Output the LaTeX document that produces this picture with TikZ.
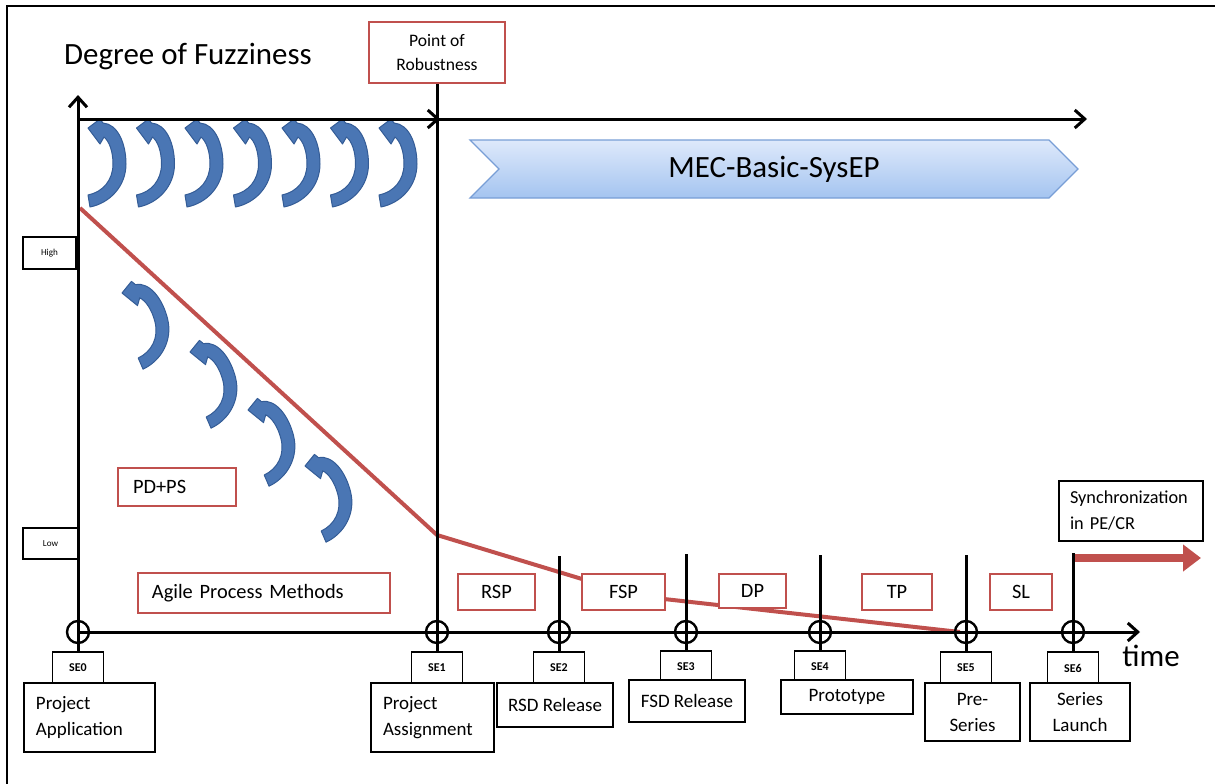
\documentclass[tikz,border=0pt]{standalone}
\usepackage{fontspec}
\setmainfont{Carlito}
\usepackage{tikz}
\usetikzlibrary{positioning,arrows.meta,shapes.symbols}
\definecolor{boxred}{RGB}{192,80,77}
\definecolor{curlblue}{RGB}{74,118,180}
\definecolor{curledge}{RGB}{52,92,150}
\definecolor{chevtop}{RGB}{222,233,251}
\definecolor{chevbot}{RGB}{164,196,240}
\definecolor{chevedge}{RGB}{120,158,214}
\tikzset{
  axis/.style={line width=0.75mm, -{Straight Barb[length=2.5mm,width=4.5mm]}},
  stem/.style={line width=0.75mm},
  milestone/.style={circle, draw, line width=0.6mm, minimum size=5.5mm, inner sep=0pt},
  phasebox/.style={rectangle, draw=boxred, line width=0.7mm, fill=white, font=\fontsize{14.5}{17}\selectfont, inner sep=0pt},
  stagebox/.style={rectangle, draw, line width=0.45mm, fill=white, font=\fontsize{13.5}{18.5}\selectfont, inner sep=0pt},
  sebox/.style={rectangle, draw, line width=0.45mm, fill=white, font=\fontsize{8.5}{10}\selectfont\bfseries, minimum width=12.75mm, minimum height=8mm, inner sep=0pt},
  levelbox/.style={rectangle, draw, line width=0.4mm, font=\fontsize{6.5}{8}\selectfont, minimum height=8mm, inner sep=0pt},
  fuzzline/.style={boxred, line width=1mm, line join=round},
  syncarrow/.style={boxred, line width=2.2mm, -{Triangle[length=4.5mm,width=6.5mm]}},
  fuzzloop/.pic={
    \fill[curlblue, draw=curledge, line width=0.25mm, line join=round] (0,0) -- (12,-9) -- (15,-5)
      .. controls (30,-4) and (38,16) .. (38,36)
      .. controls (38,58) and (22,75) .. (2,79)
      -- (0,67)
      .. controls (15,64) and (25,52) .. (25,36)
      .. controls (25,23) and (21,13) .. (16,9)
      -- (12,16) -- cycle;
  },
}
\begin{document}
\begin{tikzpicture}[x=0.25mm, y=-0.25mm]
\useasboundingbox (0,0) rectangle (1215,784);
%Frame
\draw[line width=0.5mm] (7,784) -- (7,6) -- (1215,6);

%Coordinates
\coordinate (origin) at (78,632);
\coordinate (ytop) at (78,95);
\coordinate (xend) at (1140,632);
\coordinate (topleft) at (78,119);
\coordinate (topmid) at (440,119);
\coordinate (topstart) at (437,119);
\coordinate (topend) at (1087,119);
\coordinate (t2) at (559,556);
\coordinate (t3) at (686,554);
\coordinate (t4) at (820,555);
\coordinate (t5) at (966,555);
\coordinate (t6) at (1073,553);
\coordinate (syncstart) at (1073,558);
\coordinate (syncend) at (1201,558);

%Fuzziness curve and loops
\draw[fuzzline] (80,208) -- (437,535) -- (582,579) -- (664,599) -- (960,632);
\draw[syncarrow] (syncstart) -- (syncend);
\pic at (88,128) {fuzzloop};
\pic at (136.5,128) {fuzzloop};
\pic at (185,128) {fuzzloop};
\pic at (233.5,128) {fuzzloop};
\pic at (282,128) {fuzzloop};
\pic at (330.5,128) {fuzzloop};
\pic at (379,128) {fuzzloop};
\pic[rotate=14] at (122,293) {fuzzloop};
\pic[rotate=14] at (190,352) {fuzzloop};
\pic[rotate=14] at (248,410) {fuzzloop};
\pic[rotate=14] at (305,466) {fuzzloop};

%Nodes
\node[font=\fontsize{22}{26}\selectfont] (title) at (188,57) {Degree of Fuzziness};
\node[phasebox, minimum width=34mm, minimum height=15.25mm, align=center, font=\fontsize{12.5}{17}\selectfont] (por) at (437,52.5) {Point of\\Robustness};
\node[signal, signal to=east, signal from=west, draw=chevedge, line width=0.3mm, top color=chevtop, bottom color=chevbot, minimum width=152mm, minimum height=14.5mm, inner sep=0pt, font=\fontsize{22}{26}\selectfont] (mec) at (774,169) {MEC-Basic-SysEP};
\node[levelbox, minimum width=13.25mm] (high) at (49.5,253) {High};
\node[levelbox, minimum width=13.75mm, minimum height=7.75mm] (low) at (50.5,543.5) {Low};

\node[phasebox, text width=22mm, inner xsep=3.75mm, minimum height=9.5mm, align=left] (pdps) at (177,487) {PD+PS};
\node[phasebox, text width=56mm, inner xsep=3.5mm, minimum height=10mm, align=left] (agile) at (264,593) {Agile Process Methods};
\node[phasebox, minimum width=19.25mm, minimum height=9mm] (rsp) at (496.5,592) {RSP};
\node[phasebox, minimum width=20.75mm, minimum height=9mm] (fsp) at (623.5,592) {FSP};
\node[phasebox, minimum width=16.75mm, minimum height=8.5mm] (dp) at (752.5,591) {DP};
\node[phasebox, minimum width=17.5mm, minimum height=9mm] (tp) at (897,592) {TP};
\node[phasebox, minimum width=15.5mm, minimum height=9mm] (sl) at (1021,592) {SL};

\node[stagebox, text width=30.5mm, inner xsep=2.75mm, minimum height=15mm, align=left, font=\fontsize{13}{18.5}\selectfont] (sync) at (1131,511) {Synchronization\\in PE/CR};

\node[milestone] (m0) at (78,632) {};
\node[milestone] (m1) at (437,632) {};
\node[milestone] (m2) at (559,632) {};
\node[milestone] (m3) at (686,632) {};
\node[milestone] (m4) at (820,632) {};
\node[milestone] (m5) at (966,632) {};
\node[milestone] (m6) at (1073,632) {};

\node[sebox] (se0) at (78,668) {SE0};
\node[sebox] (se1) at (437,668) {SE1};
\node[sebox] (se2) at (559,668) {SE2};
\node[sebox] (se3) at (686,667) {SE3};
\node[sebox] (se4) at (820,667) {SE4};
\node[sebox] (se5) at (966,668) {SE5};
\node[sebox] (se6) at (1073,668) {SE6};

\node[stagebox, text width=26.75mm, inner xsep=3mm, minimum height=17.25mm, align=left] (app) at (89.5,717.5) {Project\\Application};
\node[stagebox, text width=24.75mm, inner xsep=3mm, minimum height=17.25mm, align=left] (assign) at (432.5,717.5) {Project\\Assignment};
\node[stagebox, minimum width=29mm, minimum height=11mm] (rsd) at (555,705) {RSD Release};
\node[stagebox, minimum width=29mm, minimum height=10.5mm] (fsd) at (687,701) {FSD Release};
\node[stagebox, minimum width=33mm, minimum height=8.5mm] (proto) at (847,697) {Prototype};
\node[stagebox, minimum width=23.75mm, minimum height=14.5mm, align=center] (preseries) at (972.5,712) {Pre-\\Series};
\node[stagebox, minimum width=25mm, minimum height=14.5mm, align=center] (launch) at (1080,712) {Series\\Launch};

\node[font=\fontsize{22}{26}\selectfont] (time) at (1151,656) {time};

%Lines
\draw[axis] (origin) -- (ytop);
\draw[axis] (origin) -- (xend);
\draw[axis] (topleft) -- (topmid);
\draw[axis] (topstart) -- (topend);
\draw[stem] (origin) -- (se0.north);
\draw[stem] (por.south) -- (se1.north);
\draw[stem] (t2) -- (se2.north);
\draw[stem] (t3) -- (se3.north);
\draw[stem] (t4) -- (se4.north);
\draw[stem] (t5) -- (se5.north);
\draw[stem] (t6) -- (se6.north);
\end{tikzpicture}
\end{document}
